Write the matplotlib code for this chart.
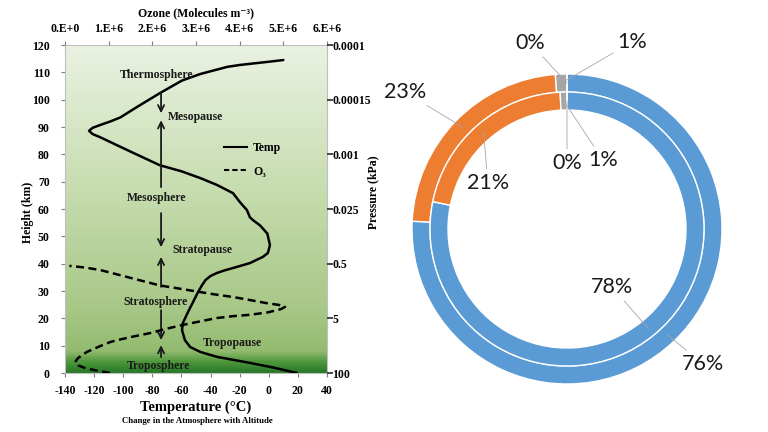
import numpy as np
import matplotlib
matplotlib.use("Agg")
import matplotlib.pyplot as plt
from matplotlib.colors import LinearSegmentedColormap
from matplotlib.lines import Line2D

plt.rcParams["font.family"] = ["Liberation Serif", "DejaVu Serif"]
plt.rcParams["font.weight"] = "bold"
plt.rcParams["axes.labelweight"] = "bold"
plt.rcParams["axes.unicode_minus"] = False

# === DATA: temperature profile (degC, km) ===
temp_c = [19.3, 4, -13, -35.6, -47, -54, -57.6, -59.6, -59, -55.5, -52, -48.6,
          -46, -43.5, -40, -35.6, -30, -24.6, -13, -4, -0.6, 0.8, -1, -6, -11,
          -13, -15, -19.8, -24.6, -35.6, -47, -60, -74.8, -95, -116, -121,
          -123.5, -121, -116, -109, -102, -90, -74.8, -59.6, -47, -28.5, -19.8,
          -1.2, 10]
temp_h = [0, 1.9, 3.7, 5.9, 7.7, 9.5, 12, 15.7, 18.3, 22.3, 26, 29.6,
          32, 34, 35.5, 36.6, 37.6, 38.4, 40.2, 42.5, 43.9, 46.8, 51, 54, 56,
          57, 59.6, 62.5, 65.8, 68.8, 71.3, 73.8, 76, 81, 86.3, 87.4,
          88.6, 89.7, 90.7, 92, 93.5, 97.5, 102.4, 107, 109.4, 112, 112.7,
          113.8, 114.5]

# === DATA: ozone profile (molecules m-3, km) ===
o3_conc = [1.03e6, 0.75e6, 0.46e6, 0.3e6, 0.23e6, 0.3e6, 0.5e6, 0.8e6, 1.03e6,
           1.19e6, 1.55e6, 1.95e6, 2.3e6, 2.7e6, 3.1e6, 3.47e6, 3.85e6,
           4.24e6, 4.65e6, 4.95e6, 5.04e6, 4.9e6, 4.6e6, 4.2e6, 3.85e6,
           3.45e6, 3.1e6, 2.65e6, 2.18e6, 1.5e6, 0.8e6, 0.45e6, 0.1e6]
o3_h = [0, 0.8, 1.8, 2.8, 4, 5.5, 7.7, 9.8, 11.3,
        12, 13.3, 14.6, 16.1, 17.6, 18.9, 20.1, 20.8,
        21.3, 22.2, 23.4, 24.2, 24.9, 25.6, 26.8, 27.8,
        28.7, 29.6, 30.8, 32, 34.8, 37.7, 38.6, 39.2]

# === DATA: axes ticks ===
height_ticks = list(range(0, 121, 10))
temp_ticks = list(range(-140, 41, 20))
ozone_ticks = [0, 1e6, 2e6, 3e6, 4e6, 5e6, 6e6]
ozone_labels = ["0.E+0", "1.E+6", "2.E+6", "3.E+6", "4.E+6", "5.E+6", "6.E+6"]
pressure_heights = [0, 20, 40, 60, 80, 100, 120]
pressure_labels = ["100", "5", "0.5", "0.025", "0.001", "0.00015", "0.0001"]

# === DATA: layer labels (text, T, h) ===
layer_names = ["Thermosphere", "Mesopause", "Mesosphere", "Stratopause",
               "Stratosphere", "Tropopause", "Troposphere"]
layer_t = [-77, -69, -77, -66, -78, -45, -76]
layer_h = [109, 93.7, 64, 45, 26, 11, 2.5]
layer_ha = ["center", "left", "center", "left", "center", "left", "center"]

# arrows (start h, end h) at T = -74
arrow_from = [102.5, 68, 58.5, 31.5, 23, 5.8]
arrow_to = [95, 92.5, 46, 42.5, 12, 10.2]

# === DATA: donut ===
donut_colors = ["#5b9bd5", "#ed7d31", "#a5a5a5", "#ffc000"]
outer_vals = [75.8, 23.0, 1.2, 0.0]
inner_vals = [78.2, 21.0, 0.8, 0.0]

fig = plt.figure(figsize=(7.68, 4.32), dpi=100)
W, H = 768, 432

# ---------------- left chart ----------------
ax = fig.add_axes([65 / W, 1 - 373 / H, 262 / W, 328 / H])
ax.set_xlim(-140, 40)
ax.set_ylim(0, 120)

cmap = LinearSegmentedColormap.from_list("bg", [
    (0.0, "#2b7a29"), (0.03, "#4c963b"), (0.065, "#93bb70"),
    (0.2, "#a8c888"), (0.55, "#c6dcae"), (1.0, "#eaf2e2")])
grad = np.linspace(0, 1, 400).reshape(-1, 1)
ax.imshow(grad, extent=[-140, 40, 0, 120], origin="lower", aspect="auto",
          cmap=cmap, zorder=0)

ax.plot(temp_c, temp_h, color="black", lw=1.8, zorder=3,
        solid_joinstyle="round", solid_capstyle="round")

for name, t, h, ha in zip(layer_names, layer_t, layer_h, layer_ha):
    ax.text(t, h, name, ha=ha, va="center", fontsize=8.5, color="#1a1a1a",
            zorder=4)

for y0, y1 in zip(arrow_from, arrow_to):
    ax.annotate("", xy=(-74, y1), xytext=(-74, y0),
                arrowprops=dict(arrowstyle="->,head_length=0.45,head_width=0.22",
                                color="#1a1a1a", lw=1.3, shrinkA=0, shrinkB=0),
                zorder=4)

ax.set_xticks(temp_ticks)
ax.set_yticks(height_ticks)
ax.tick_params(axis="both", labelsize=8.5, length=3, color="#7f7f7f")
ax.tick_params(axis="y", pad=8)
ax.tick_params(axis="x", pad=6)
ax.set_xlabel("Temperature (°C)", fontsize=10.5, labelpad=2)
ax.set_ylabel("Height (km)", fontsize=8.5)
ax.yaxis.set_label_coords(-0.118, 0.49)
for s in ax.spines.values():
    s.set_color("#bfbfbf")
    s.set_linewidth(0.8)

# ozone on top axis
ax_oz = ax.twiny()
ax_oz.set_xlim(0, 6e6)
ax_oz.plot(o3_conc, o3_h, color="black", lw=1.8, ls=(0, (3.2, 1.8)), zorder=3)
ax_oz.set_xticks(ozone_ticks)
ax_oz.set_xticklabels(ozone_labels)
ax_oz.tick_params(axis="x", labelsize=8.5, length=3, color="#7f7f7f", pad=4)
ax_oz.set_xlabel("Ozone (Molecules m⁻³)", fontsize=8.5, labelpad=5)
for s in ax_oz.spines.values():
    s.set_visible(False)

# pressure on right axis
ax_p = ax.twinx()
ax_p.set_ylim(0, 120)
ax_p.set_yticks(pressure_heights)
ax_p.set_yticklabels(pressure_labels)
ax_p.tick_params(axis="y", labelsize=8.5, length=4, width=1.2, color="#2b2b2b", pad=0)
ax_p.set_ylabel("Pressure (kPa)", fontsize=8.5, rotation=90)
ax_p.yaxis.set_label_coords(1.155, 0.55)
for s in ax_p.spines.values():
    s.set_visible(False)

legend_handles = [Line2D([], [], color="black", lw=1.5),
                  Line2D([], [], color="black", lw=1.5, ls=(0, (2.5, 1.5)))]
ax.legend(legend_handles, ["Temp", "O₃"], loc="upper left",
          bbox_to_anchor=(0.605, 0.705), frameon=False, fontsize=8.5,
          handlelength=2.0, handletextpad=0.5, labelspacing=1.0,
          borderpad=0, borderaxespad=0)

fig.text(197 / W, 1 - 421 / H, "Change in the Atmosphere with Altitude",
         ha="center", va="center", fontsize=6.3)

# ---------------- donut ----------------
cx, cy, R = 567, 229, 155
axd = fig.add_axes([(cx - R) / W, 1 - (cy + R) / H, 2 * R / W, 2 * R / H])
axd.axis("off")

ring_w = 18 / R
outer_w, _ = axd.pie(outer_vals, radius=1.0, colors=donut_colors,
                     startangle=90, counterclock=False,
                     wedgeprops=dict(width=ring_w, edgecolor="white", lw=1.0))
inner_w, _ = axd.pie(inner_vals, radius=1.0 - ring_w, colors=donut_colors,
                     startangle=90, counterclock=False,
                     wedgeprops=dict(width=ring_w, edgecolor="white", lw=1.0))
axd.set_xlim(-1, 1)
axd.set_ylim(-1, 1)

# label text positions (donut units)
outer_text = [(0.877, -0.871), (-1.045, 0.884), (0.419, 1.206), (-0.239, 1.2)]
inner_text = [(0.29, -0.374), (-0.51, 0.297), (0.232, 0.445), (0.0, 0.426)]


def label_ring(wedges, vals, texts, r_mid):
    for w, v, (tx, ty) in zip(wedges, vals, texts):
        ang = np.deg2rad((w.theta1 + w.theta2) / 2)
        px, py = r_mid * np.cos(ang), r_mid * np.sin(ang)
        axd.annotate(f"{round(v)}%", xy=(px, py), xytext=(tx, ty),
                     ha="center", va="center", fontsize=15.5,
                     family="Lato", weight="normal", color="#1a1a1a",
                     annotation_clip=False,
                     arrowprops=dict(arrowstyle="-", color="#a6a6a6", lw=0.6,
                                     shrinkA=1, shrinkB=0))


label_ring(outer_w, outer_vals, outer_text, 0.942)
label_ring(inner_w, inner_vals, inner_text, 0.826)

fig.savefig("out.png", dpi=100)
